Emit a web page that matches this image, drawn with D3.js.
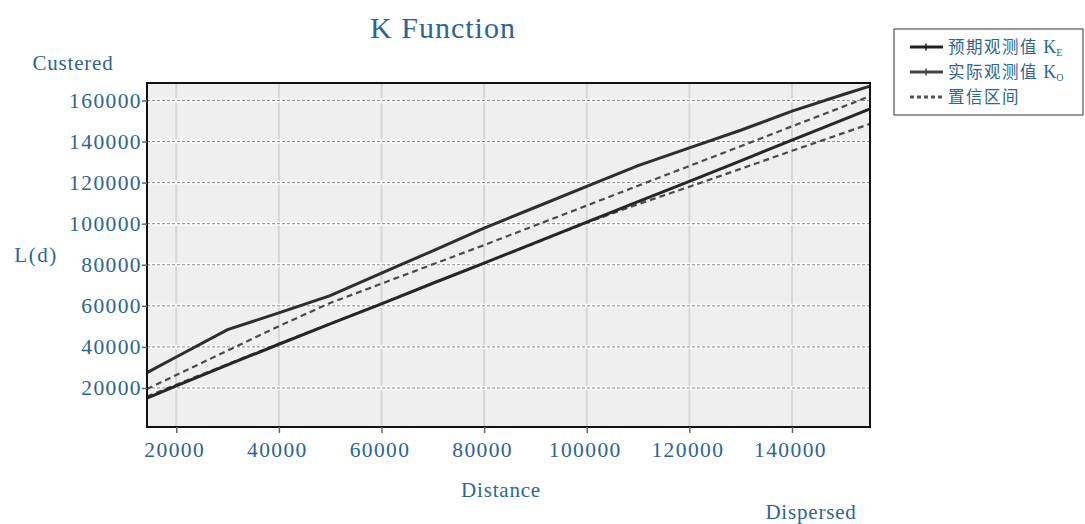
<!DOCTYPE html>
<html>
<head>
<meta charset="utf-8">
<script src="https://cdn.jsdelivr.net/npm/d3@7/dist/d3.min.js"></script>
<style>
	body { margin: 0; background: #fff; }
	text { font-family: "Liberation Serif", "DejaVu Serif", serif; fill: #2c6496; }
</style>
</head>
<body>
<script>
// distance values (x) and the three curves
const distances = [14300, 20000, 30000, 40000, 50000, 60000, 70000, 80000, 90000, 100000, 110000, 120000, 130000, 140000, 150000, 155200];
const expectedK = [15100, 21000, 31200, 41300, 51200, 61000, 71000, 80800, 90800, 100800, 110700, 120600, 130600, 140700, 150700, 155900];
const observedK = [27500, 35100, 48400, 56600, 65000, 75900, 86800, 97800, 108000, 118200, 128300, 136900, 145500, 154800, 162900, 167000];
const upperBand = [19500, 26300, 38200, 50100, 61400, 70800, 80200, 89600, 99200, 108800, 118500, 128100, 137700, 147400, 157000, 162100];
const lowerBand = [15800, 21600, 31600, 41500, 51300, 61100, 71000, 80800, 90600, 100500, 109500, 118000, 126700, 135500, 144100, 148600];

const xTicks = [20000, 40000, 60000, 80000, 100000, 120000, 140000];
const yTicks = [20000, 40000, 60000, 80000, 100000, 120000, 140000, 160000];

const legendItems = [
	{ name: "预期观测值 ", sub: "E", dash: null, color: "#222" },
	{ name: "实际观测值 ", sub: "O", dash: null, color: "#444" },
	{ name: "置信区间", sub: null, dash: "4,3", color: "#555" },
];

function kChart() {
	let dimensions = {
		width: 1085,
		height: 524,
		margins: {
			top: 83,
			right: 215,
			bottom: 97,
			left: 147,
		},
	};
	dimensions.boundedWidth = dimensions.width - dimensions.margins.left - dimensions.margins.right;
	dimensions.boundedHeight = dimensions.height - dimensions.margins.top - dimensions.margins.bottom;

	const svg = d3.select("body")
		.append("svg")
		.attr("width", dimensions.width)
		.attr("height", dimensions.height);

	const graph = svg.append("g")
		.attr("transform", `translate(${dimensions.margins.left},${dimensions.margins.top})`);

	const xScale = d3.scaleLinear()
		.domain([14300, 155200])
		.range([0, dimensions.boundedWidth]);

	const yScale = d3.scaleLinear()
		.domain([1000, 168500])
		.range([dimensions.boundedHeight, 0]);

	// plot background
	graph.append("rect")
		.attr("width", dimensions.boundedWidth)
		.attr("height", dimensions.boundedHeight)
		.attr("fill", "#efefef");

	// vertical grid
	graph.selectAll(".vgrid")
		.data(xTicks)
		.enter()
		.append("line")
		.attr("class", "vgrid")
		.attr("x1", d => xScale(d))
		.attr("x2", d => xScale(d))
		.attr("y1", 0)
		.attr("y2", dimensions.boundedHeight)
		.attr("stroke", "#d6d6d6")
		.attr("stroke-width", 2);

	// horizontal grid: white halo + dashed gray
	graph.selectAll(".hhalo")
		.data(yTicks)
		.enter()
		.append("line")
		.attr("class", "hhalo")
		.attr("x1", 0)
		.attr("x2", dimensions.boundedWidth)
		.attr("y1", d => yScale(d))
		.attr("y2", d => yScale(d))
		.attr("stroke", "#fafafa")
		.attr("stroke-width", 4);

	graph.selectAll(".hgrid")
		.data(yTicks)
		.enter()
		.append("line")
		.attr("class", "hgrid")
		.attr("x1", 0)
		.attr("x2", dimensions.boundedWidth)
		.attr("y1", d => yScale(d))
		.attr("y2", d => yScale(d))
		.attr("stroke", "#8a8a8a")
		.attr("stroke-width", 1)
		.attr("stroke-dasharray", "3,2");

	// curves
	const lineGen = values => d3.line()
		.x((d, i) => xScale(distances[i]))
		.y(d => yScale(d))(values);

	const curves = [
		{ values: lowerBand, color: "#4a4a4a", width: 2.2, dash: "6,4" },
		{ values: upperBand, color: "#4a4a4a", width: 2.2, dash: "6,4" },
		{ values: expectedK, color: "#262626", width: 3, dash: null },
		{ values: observedK, color: "#2e2e2e", width: 3, dash: null },
	];

	graph.selectAll(".curve")
		.data(curves)
		.enter()
		.append("path")
		.attr("class", "curve")
		.attr("d", d => lineGen(d.values))
		.attr("fill", "none")
		.attr("stroke", d => d.color)
		.attr("stroke-width", d => d.width)
		.attr("stroke-dasharray", d => d.dash);

	// frame
	graph.append("rect")
		.attr("width", dimensions.boundedWidth)
		.attr("height", dimensions.boundedHeight)
		.attr("fill", "none")
		.attr("stroke", "#111")
		.attr("stroke-width", 2);

	// axes
	const xAxis = graph.append("g")
		.attr("transform", `translate(0,${dimensions.boundedHeight})`)
		.call(d3.axisBottom(xScale).tickValues(xTicks).tickSize(6).tickPadding(9).tickFormat(d3.format("d")));

	const yAxis = graph.append("g")
		.call(d3.axisLeft(yScale).tickValues(yTicks).tickSize(5).tickPadding(0).tickFormat(d3.format("d")));

	[xAxis, yAxis].forEach(axis => {
		axis.select(".domain").remove();
		axis.selectAll(".tick line").attr("stroke", "#666").attr("stroke-width", 1.5);
		axis.selectAll(".tick text")
			.style("font-family", "Liberation Serif, serif")
			.style("font-size", "21.5px")
			.style("letter-spacing", "1.4px")
			.attr("fill", "#2c6496");
	});
	xAxis.selectAll(".tick text").attr("dx", "-2");

	// titles and labels
	svg.append("text")
		.attr("x", 443)
		.attr("y", 38)
		.attr("text-anchor", "middle")
		.style("font-size", "30px")
		.style("letter-spacing", "1px")
		.text("K Function");

	svg.append("text")
		.attr("x", 73)
		.attr("y", 70)
		.attr("text-anchor", "middle")
		.style("font-size", "21px")
		.style("letter-spacing", "0.8px")
		.text("Custered");

	svg.append("text")
		.attr("x", 36)
		.attr("y", 262)
		.attr("text-anchor", "middle")
		.style("font-size", "21px")
		.style("letter-spacing", "1.5px")
		.text("L(d)");

	svg.append("text")
		.attr("x", 501)
		.attr("y", 497)
		.attr("text-anchor", "middle")
		.style("font-size", "21px")
		.style("letter-spacing", "0.8px")
		.text("Distance");

	svg.append("text")
		.attr("x", 811)
		.attr("y", 519)
		.attr("text-anchor", "middle")
		.style("font-size", "21px")
		.style("letter-spacing", "0.8px")
		.text("Dispersed");

	// legend
	const legend = svg.append("g")
		.attr("transform", "translate(894,29)");

	legend.append("rect")
		.attr("width", 189)
		.attr("height", 86)
		.attr("fill", "#fff")
		.attr("stroke", "#555")
		.attr("stroke-width", 1.2);

	const rows = legend.selectAll(".row")
		.data(legendItems)
		.enter()
		.append("g")
		.attr("class", "row")
		.attr("transform", (d, i) => `translate(0,${18 + i * 25})`);

	rows.append("line")
		.attr("x1", 16)
		.attr("x2", 49)
		.attr("stroke", d => d.color)
		.attr("stroke-width", 3)
		.attr("stroke-dasharray", d => d.dash);

	rows.filter(d => !d.dash)
		.append("line")
		.attr("x1", 32)
		.attr("x2", 32)
		.attr("y1", -3.5)
		.attr("y2", 3.5)
		.attr("stroke", d => d.color)
		.attr("stroke-width", 1.5);

	const label = rows.append("text")
		.attr("x", 54)
		.attr("y", 6)
		.style("font-family", "Noto Sans CJK SC, Liberation Serif, serif")
		.style("font-size", "16.5px")
		.style("letter-spacing", "1.5px");

	label.append("tspan").text(d => d.name);
	label.filter(d => d.sub)
		.append("tspan")
		.style("font-family", "Liberation Serif, serif")
		.style("font-size", "18px")
		.style("letter-spacing", "0px")
		.text("K");
	label.filter(d => d.sub)
		.append("tspan")
		.attr("dy", 3)
		.style("font-family", "Liberation Serif, serif")
		.style("font-size", "10px")
		.text(d => d.sub);
}
kChart();
</script>
</body>
</html>
